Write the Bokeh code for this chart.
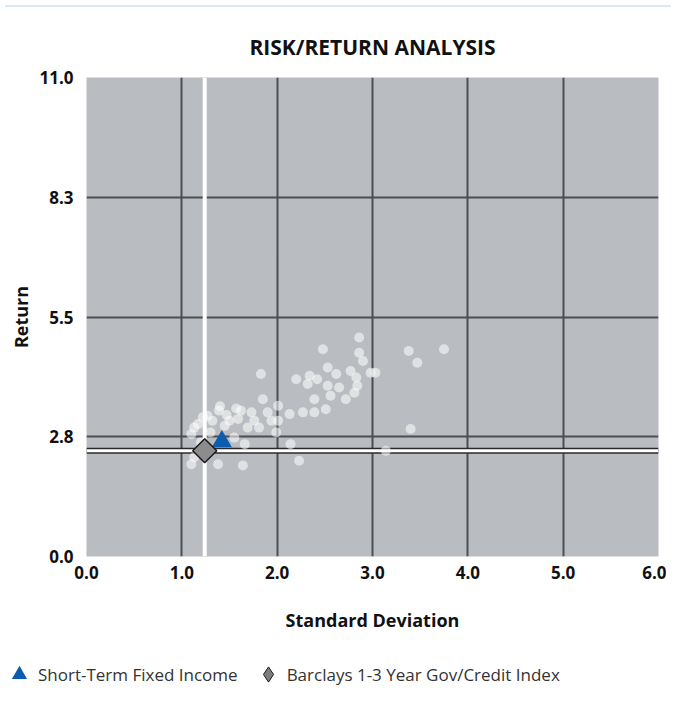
import numpy as np
from bokeh.plotting import figure
from bokeh.layouts import column
from bokeh.models import (Span, Legend, LegendItem, FixedTicker, Range1d, Div)
from bokeh.embed import file_html
from bokeh.resources import INLINE

# ---- data ----
peer_sd = [2.86, 2.48, 3.38, 3.47, 3.75, 2.86, 2.90, 2.98, 3.03, 1.83, 2.20, 2.34,
           2.42, 2.53, 2.62, 2.77, 2.83, 2.32, 2.53, 2.65, 2.84, 2.39, 2.56, 2.72,
           2.81, 1.85, 2.01, 2.13, 2.27, 2.39, 2.51, 1.39, 1.62, 1.73, 1.90, 1.27,
           1.17, 1.32, 1.50, 1.59, 1.76, 1.94, 2.01, 1.69, 1.81, 1.99, 1.10, 1.13,
           1.55, 1.66, 2.14, 2.23, 1.64, 1.38, 1.10, 3.40, 3.14, 1.13, 1.22, 1.45,
           1.30, 1.47, 1.20, 1.40, 1.57]
peer_ret = [5.03, 4.76, 4.72, 4.45, 4.76, 4.68, 4.49, 4.22, 4.22, 4.19, 4.07, 4.15,
            4.07, 4.34, 4.19, 4.26, 4.11, 3.96, 3.92, 3.88, 3.92, 3.61, 3.69, 3.61,
            3.76, 3.61, 3.46, 3.27, 3.31, 3.31, 3.38, 3.35, 3.35, 3.31, 3.31, 3.23,
            3.04, 3.12, 3.12, 3.16, 3.12, 3.12, 3.12, 2.96, 2.96, 2.85, 2.81, 2.96,
            2.73, 2.58, 2.58, 2.20, 2.09, 2.12, 2.12, 2.93, 2.43, 2.28, 3.20, 3.00,
            2.85, 3.25, 2.62, 3.45, 3.40]
fund_sd = [1.42]
fund_ret = [2.64]
index_sd = [1.24]
index_ret = [2.43]
series_names = ["Short-Term Fixed Income", "Barclays 1-3 Year Gov/Credit Index"]
x_ticks = [0, 1, 2, 3, 4, 5, 6]
x_tick_labels = ["0.0", "1.0", "2.0", "3.0", "4.0", "5.0", "6.0"]
y_ticks = [0, 2.75, 5.5, 8.25, 11]
y_tick_labels = ["0.0", "2.8", "5.5", "8.3", "11.0"]

FONT = "Open Sans"
FUND_COLOR = "#0b5cad"
INDEX_FILL = "#8c8c8c"
INDEX_LINE = "#1a1a1a"
W = 666

p = figure(width=W, height=641, x_range=Range1d(0, 6), y_range=Range1d(0, 11),
           output_backend="svg", toolbar_location=None,
           min_border_left=86, min_border_right=8, min_border_top=65,
           min_border_bottom=97)
p.background_fill_color = "#b9bcc1"
p.border_fill_color = "white"
p.outline_line_color = None

p.title.text = "RISK/RETURN ANALYSIS"
p.title.align = "center"
p.title.text_font = FONT
p.title.text_font_style = "bold"
p.title.text_font_size = "21px"
p.title.text_color = "#111111"
p.title.standoff = 33

# grid
p.xgrid.ticker = FixedTicker(ticks=x_ticks[1:-1])
p.ygrid.ticker = FixedTicker(ticks=y_ticks[1:-1])
for g in (p.xgrid, p.ygrid):
    g.grid_line_color = "#4b4e53"
    g.grid_line_width = 2
    g.grid_line_alpha = 1

# axes
p.xaxis.ticker = FixedTicker(ticks=x_ticks)
p.xaxis.major_label_overrides = {t: l for t, l in zip(x_ticks, x_tick_labels)}
p.yaxis.ticker = FixedTicker(ticks=y_ticks)
p.yaxis.major_label_overrides = {t: l for t, l in zip(y_ticks, y_tick_labels)}
p.xaxis.axis_label = "Standard Deviation"
p.yaxis.axis_label = "Return"
for ax in (p.xaxis, p.yaxis):
    ax.axis_line_color = None
    ax.major_tick_line_color = None
    ax.minor_tick_line_color = None
    ax.major_label_text_font = FONT
    ax.major_label_text_font_style = "bold"
    ax.major_label_text_font_size = "17px"
    ax.major_label_text_color = "#111111"
    ax.axis_label_text_font = FONT
    ax.axis_label_text_font_style = "bold"
    ax.axis_label_text_font_size = "18px"
    ax.axis_label_text_color = "#111111"
p.xaxis.major_label_standoff = 3
p.xaxis.axis_label_standoff = 26
p.yaxis.major_label_standoff = 7
p.yaxis.axis_label_standoff = 3

# reference lines through the index
p.add_layout(Span(location=index_sd[0], dimension="height", line_color="white",
                  line_width=4, level="underlay"))
p.add_layout(Span(location=index_ret[0], dimension="width", line_color="#2a2a2a",
                  line_width=6, level="underlay"))
p.add_layout(Span(location=index_ret[0], dimension="width", line_color="white",
                  line_width=3, level="underlay"))

# peers
p.scatter(peer_sd, peer_ret, size=10, fill_color="white", fill_alpha=0.55, line_color=None)

p.scatter(fund_sd, fund_ret, marker="triangle", size=20,
          fill_color=FUND_COLOR, line_color=None)
p.scatter(index_sd, index_ret, marker="square", angle=np.pi / 4, size=17,
          fill_color=INDEX_FILL, line_color=INDEX_LINE, line_width=1.5)

# ---- legend strip (separate figure; its glyphs fall outside its range) ----
lf = figure(width=W, height=42, output_backend="svg", toolbar_location=None,
            x_axis_location=None, y_axis_location=None,
            min_border=0, min_border_left=0, min_border_right=0,
            min_border_top=0, min_border_bottom=0,
            x_range=Range1d(-1, 0), y_range=Range1d(-1, 0))
lf.outline_line_color = None
lf.grid.visible = False
lf.background_fill_color = "white"
lr_fund = lf.scatter(fund_sd, fund_ret, marker="triangle", fill_color=FUND_COLOR,
                     line_color=None)
lr_idx = lf.scatter(index_sd, index_ret, marker="diamond",
                    fill_color="#7d7d7d", line_color=INDEX_LINE, line_width=1)
legend = Legend(items=[LegendItem(label=series_names[0], renderers=[lr_fund]),
                       LegendItem(label=series_names[1], renderers=[lr_idx])],
                orientation="horizontal", location=(0, 2),
                glyph_width=38, glyph_height=38, label_height=38,
                label_standoff=0, spacing=11, padding=0, margin=0,
                border_line_color=None, background_fill_alpha=0,
                label_text_font=FONT, label_text_font_size="17px",
                label_text_color="#333333")
lf.add_layout(legend, "center")

band = Div(width=W, height=2, styles={"background-color": "#dce8f5"})

open("out.html", "w").write(file_html([column(band, p, spacing=0), lf], INLINE))
